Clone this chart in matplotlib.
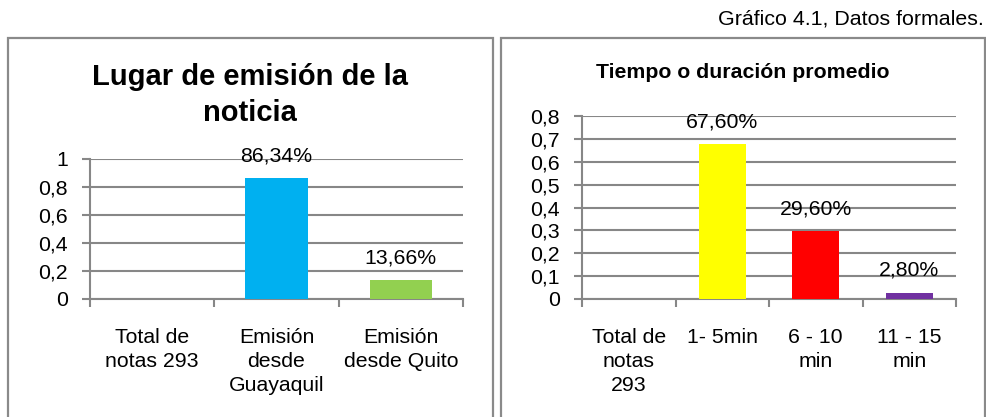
import matplotlib
matplotlib.use("Agg")
import matplotlib.pyplot as plt
from matplotlib.patches import Rectangle
import numpy as np

plt.rcParams['font.family'] = ['Liberation Sans', 'DejaVu Sans']

# Left chart data
left_title = "Lugar de emisión de la\nnoticia"
left_categories = ["Total de\nnotas 293", "Emisión\ndesde\nGuayaquil", "Emisión\ndesde Quito"]
left_values = [np.nan, 0.8634, 0.1366]
left_labels = ["", "86,34%", "13,66%"]
left_colors = ["#FFFFFF", "#00B0F0", "#92D050"]
left_yticks = [0, 0.2, 0.4, 0.6, 0.8, 1.0]
left_yticklabels = ["0", "0,2", "0,4", "0,6", "0,8", "1"]

# Right chart data
right_title = "Tiempo o duración promedio"
right_categories = ["Total de\nnotas\n293", "1- 5min", "6 - 10\nmin", "11 - 15\nmin"]
right_values = [np.nan, 0.676, 0.296, 0.028]
right_labels = ["", "67,60%", "29,60%", "2,80%"]
right_colors = ["#FFFFFF", "#FFFF00", "#FF0000", "#7030A0"]
right_yticks = [0, 0.1, 0.2, 0.3, 0.4, 0.5, 0.6, 0.7, 0.8]
right_yticklabels = ["0", "0,1", "0,2", "0,3", "0,4", "0,5", "0,6", "0,7", "0,8"]

suptitle = "Gráfico 4.1, Datos formales."

W, H = 986, 417
fig = plt.figure(figsize=(W / 100, H / 100), dpi=100)

grid_c = "#878787"
border_c = "#8a8a8a"
FS = 15.3

def px(x0, y0, x1, y1):
    return [x0 / W, 1 - y1 / H, (x1 - x0) / W, (y1 - y0) / H]

# Panel borders
for (x0, x1) in [(8, 493), (501, 985)]:
    fig.add_artist(Rectangle((x0 / W, -0.05), (x1 - x0) / W, 1 - 38 / H + 0.05,
                             transform=fig.transFigure, fill=False,
                             edgecolor=border_c, lw=1.6))

def draw(ax, cats, vals, labels, colors, yt, ytl, ymax):
    x = np.arange(len(cats))
    ax.bar(x, vals, width=0.5, color=colors, zorder=3)
    for xi, v, lab in zip(x, vals, labels):
        if lab:
            ax.annotate(lab, (xi, v), xytext=(0, 16), textcoords="offset points",
                        ha="center", va="center", fontsize=FS, zorder=4)
    ax.set_xlim(-0.5, len(cats) - 0.5)
    ax.set_ylim(0, ymax)
    ax.set_yticks(yt)
    ax.set_yticklabels(ytl, fontsize=FS)
    ax.set_xticks(x)
    ax.set_xticklabels(cats, fontsize=FS, linespacing=1.33)
    ax.set_xticks(np.arange(len(cats) + 1) - 0.5, minor=True)
    ax.tick_params(axis="x", which="major", length=0, pad=21)
    ax.tick_params(axis="x", which="minor", length=6, width=1.5, color=grid_c, direction="out")
    ax.tick_params(axis="y", length=6, width=1.5, color=grid_c, direction="out", pad=10)
    ax.yaxis.grid(True, color=grid_c, lw=1.5, zorder=0)
    ax.set_axisbelow(True)
    for s in ["top", "right"]:
        ax.spines[s].set_visible(False)
    for s in ["left", "bottom"]:
        ax.spines[s].set_color(grid_c)
        ax.spines[s].set_linewidth(1.5)
    ax.patch.set_alpha(0)

axL = fig.add_axes(px(90, 159, 463, 299))
draw(axL, left_categories, left_values, left_labels, left_colors,
     left_yticks, left_yticklabels, 1.0)

axR = fig.add_axes(px(582, 116, 956, 299))
draw(axR, right_categories, right_values, right_labels, right_colors,
     right_yticks, right_yticklabels, 0.8)

fig.text(250 / W, 1 - 95 / H, left_title, ha="center", va="center",
         fontsize=21, fontweight="bold", linespacing=1.33)
fig.text(743 / W, 1 - 72 / H, right_title, ha="center", va="center",
         fontsize=15.3, fontweight="bold")
fig.text(984 / W, 1 - 19 / H, suptitle, ha="right", va="center", fontsize=15.4)

fig.savefig("out.png", dpi=100)
